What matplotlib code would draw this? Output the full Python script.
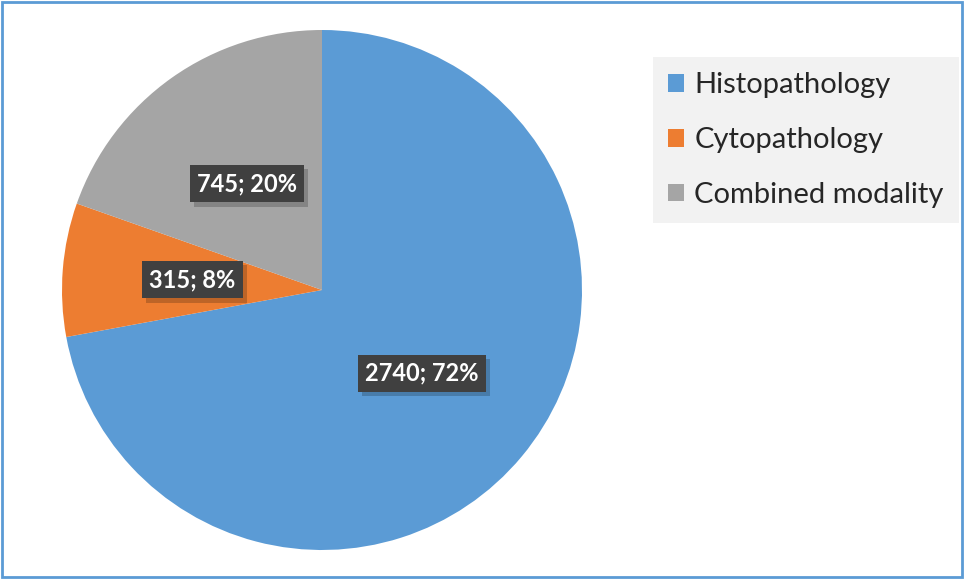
import numpy as np
import matplotlib.pyplot as plt
from matplotlib.patches import Patch, Rectangle
import matplotlib.patheffects as pe

plt.rcParams['font.family'] = ['Lato', 'DejaVu Sans']

labels = ["Histopathology", "Cytopathology", "Combined modality"]
counts = [2740, 315, 745]
colors = ["#5B9BD5", "#ED7D31", "#A5A5A5"]

W, H = 964, 579
fig = plt.figure(figsize=(W / 100, H / 100), dpi=100)

# pie axes: centre (322, 290) px, radius 260 px
ax = fig.add_axes([62 / W, 29 / H, 520 / W, 520 / H])
wedges, _ = ax.pie(counts, colors=colors, startangle=90, counterclock=False,
                   radius=1.0, wedgeprops=dict(linewidth=0))
ax.set_xlim(-1, 1)
ax.set_ylim(-1, 1)
ax.set_aspect("equal")
ax.axis("off")

total = sum(counts)
for w, n in zip(wedges, counts):
    mid = np.deg2rad((w.theta1 + w.theta2) / 2)
    x, y = 0.5 * np.cos(mid), 0.5 * np.sin(mid)
    txt = f"{n}; {round(100 * n / total)}%"
    t = ax.text(x, y, txt, ha="center", va="center", fontsize=17,
                fontweight="bold", color="white",
                bbox=dict(boxstyle="square,pad=0.3", facecolor="#404040",
                          edgecolor="none"))
    t.get_bbox_patch().set_path_effects([
        pe.SimplePatchShadow(offset=(3, -3), shadow_rgbFace="black", alpha=0.2),
        pe.Normal()])

handles = [Patch(facecolor=c, edgecolor="none") for c in colors]
leg = fig.legend(handles, labels, loc="upper left",
                 bbox_to_anchor=(653 / W, 1 - 57 / H),
                 fontsize=21, frameon=True, fancybox=False,
                 handlelength=0.55, handleheight=0.55, handletextpad=0.35,
                 labelspacing=0.99, borderpad=0.52, borderaxespad=0,
                 labelcolor="#262626")
leg.get_frame().set_facecolor("#F2F2F2")
leg.get_frame().set_edgecolor("none")
leg.get_frame().set_alpha(1)

fig.patches.append(Rectangle((2 / W, 2 / H), 1 - 4 / W, 1 - 4 / H,
                             transform=fig.transFigure, fill=False,
                             edgecolor="#5B9BD5", linewidth=2))

fig.savefig("out.png", dpi=100, facecolor="white")
